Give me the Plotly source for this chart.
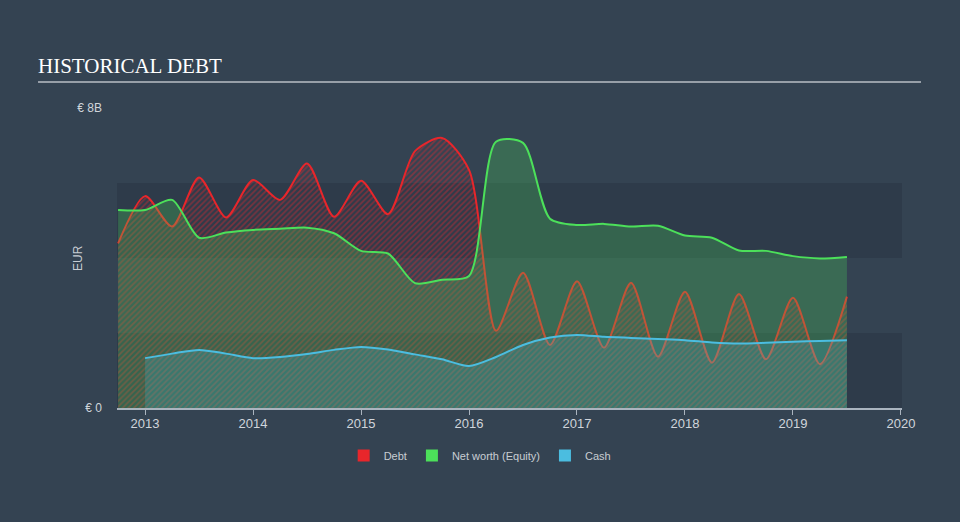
import plotly.graph_objects as go

# ---- data (EUR billions) ----
debt_x = [2012.75, 2013.0, 2013.25, 2013.5, 2013.75, 2014.0, 2014.25, 2014.5, 2014.75,
          2015.0, 2015.25, 2015.5, 2015.75, 2016.0, 2016.25, 2016.5, 2016.75, 2017.0,
          2017.25, 2017.5, 2017.75, 2018.0, 2018.25, 2018.5, 2018.75, 2019.0, 2019.25, 2019.5]
debt = [4.39, 5.65, 4.84, 6.15, 5.08, 6.08, 5.55, 6.52, 5.10,
        6.06, 5.17, 6.85, 7.20, 6.35, 2.06, 3.61, 1.68, 3.38,
        1.61, 3.34, 1.37, 3.10, 1.21, 3.04, 1.30, 2.94, 1.17, 2.97]

equity_x = debt_x
equity = [5.28, 5.28, 5.55, 4.54, 4.68, 4.75, 4.78, 4.81, 4.66,
          4.19, 4.12, 3.33, 3.42, 3.52, 7.10, 7.07, 5.05, 4.88,
          4.91, 4.84, 4.86, 4.60, 4.54, 4.20, 4.19, 4.05, 3.99, 4.03]

cash_x = debt_x[1:]
cash = [1.33, 1.45, 1.55, 1.45, 1.33, 1.36, 1.44, 1.55,
        1.63, 1.56, 1.43, 1.30, 1.12, 1.36, 1.68, 1.88, 1.95,
        1.90, 1.87, 1.84, 1.81, 1.75, 1.72, 1.74, 1.77, 1.79, 1.81]

x_ticks = [2013, 2014, 2015, 2016, 2017, 2018, 2019, 2020]
y_ticks = [0, 8]
y_ticktext = ["€ 0", "€ 8B"]

RED = "#e8262b"
GREEN = "#4ce05a"
BLUE = "#4bbde0"
BG = "#344352"
BAND = "#2e3b4a"
SMOOTH = 0.75

fig = go.Figure()

fig.add_trace(go.Scatter(
    x=debt_x, y=debt, mode="lines", name="Debt", showlegend=False,
    line=dict(color=RED, width=2, shape="spline", smoothing=SMOOTH),
    fill="tozeroy", fillcolor="rgba(0,0,0,0)",
    fillpattern=dict(shape="/", fgcolor="rgba(232,38,43,0.8)", bgcolor="rgba(0,0,0,0)",
                     size=4, solidity=0.45),
))
fig.add_trace(go.Scatter(
    x=equity_x, y=equity, mode="lines", name="Net worth (Equity)", showlegend=False,
    line=dict(color=GREEN, width=2, shape="spline", smoothing=SMOOTH),
    fill="tozeroy", fillcolor="rgba(76,224,90,0.25)",
))
fig.add_trace(go.Scatter(
    x=cash_x, y=cash, mode="lines", name="Cash", showlegend=False,
    line=dict(color=BLUE, width=2, shape="spline", smoothing=SMOOTH),
    fill="tozeroy", fillcolor="rgba(75,189,224,0.22)",
))

# legend entries (square swatches)
for name, col in [("Debt", RED), ("Net worth (Equity)", GREEN), ("Cash", BLUE)]:
    fig.add_trace(go.Scatter(
        x=[None], y=[None], mode="markers", name=name,
        marker=dict(symbol="square", size=13, color=col),
    ))

# background bands
shapes = []
for y0, y1 in [(0, 2), (4, 6)]:
    shapes.append(dict(type="rect", xref="paper", yref="y", x0=0, x1=1, y0=y0, y1=y1,
                       fillcolor=BAND, line=dict(width=0), layer="below"))
# title underline
shapes.append(dict(type="line", xref="paper", yref="paper", x0=-0.1006, x1=1.0242,
                   y0=1.0867, y1=1.0867, line=dict(color="#b8bec6", width=1.5)))
fig.update_layout(shapes=shapes)

fig.update_layout(
    width=960, height=522,
    paper_bgcolor=BG, plot_bgcolor=BG,
    margin=dict(l=117, r=58, t=108, b=114),
    annotations=[
        dict(text="HISTORICAL DEBT", xref="paper", yref="paper",
             x=-0.1032, y=1.093, xanchor="left", yanchor="bottom", showarrow=False,
             font=dict(family="Liberation Serif", size=21, color="#ffffff")),
        dict(text="EUR", xref="paper", yref="paper", x=-0.0497, y=0.5,
             xanchor="center", yanchor="middle", textangle=-90, showarrow=False,
             font=dict(family="Liberation Sans", size=12, color="#c8cdd3")),
    ],
    legend=dict(orientation="h", x=0.462, xanchor="center", y=-0.11, yanchor="top",
                font=dict(family="Liberation Sans", size=11, color="#c8cdd3"),
                bgcolor="rgba(0,0,0,0)", itemsizing="constant", itemwidth=30),
    xaxis=dict(range=[2012.74, 2020.01], tickvals=x_ticks, ticktext=[str(t) for t in x_ticks],
               showgrid=False, zeroline=False, showline=True, linecolor="#aab4bf", linewidth=1.5,
               ticks="outside", ticklen=5, tickcolor="#aab4bf", ticklabelstandoff=-2,
               tickfont=dict(family="Liberation Sans", size=13, color="#d0d5db")),
    yaxis=dict(range=[0, 8], tickvals=y_ticks, ticktext=y_ticktext, showgrid=False,
               zeroline=False, showline=False, ticks="", ticklen=0, ticklabelstandoff=14,
               tickfont=dict(family="Liberation Sans", size=12, color="#d0d5db")),
)

fig.write_html("out.html")
